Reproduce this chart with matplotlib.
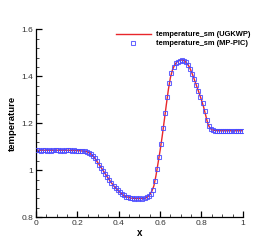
import matplotlib
matplotlib.use("Agg")
import matplotlib.pyplot as plt
from matplotlib.ticker import MultipleLocator, FuncFormatter
import numpy as np

plt.rcParams['font.family'] = ['Liberation Sans', 'DejaVu Sans']

# UGKWP line (x = 0.00 .. 1.00 step 0.01)
line_x = [round(0.01 * i, 2) for i in range(101)]
line_y = [1.085, 1.085, 1.085, 1.085, 1.085, 1.085, 1.085, 1.085, 1.085, 1.085,
          1.085, 1.085, 1.085, 1.085, 1.085, 1.085, 1.085, 1.084, 1.084, 1.084,
          1.083,
          1.083, 1.082, 1.081, 1.080, 1.077, 1.072, 1.065, 1.056, 1.044, 1.031,
          1.018, 1.005, 0.991, 0.978, 0.965, 0.952, 0.940, 0.929, 0.919, 0.910,
          0.902, 0.895, 0.890, 0.886, 0.883, 0.881, 0.880, 0.879, 0.879, 0.879,
          0.879, 0.879, 0.881, 0.886, 0.895, 0.910, 0.933, 0.976, 1.029, 1.083,
          1.143, 1.210, 1.278, 1.343, 1.395, 1.428, 1.448, 1.460, 1.466, 1.469,
          1.469, 1.464, 1.455, 1.442, 1.423, 1.400, 1.375, 1.350, 1.325, 1.299,
          1.270, 1.235, 1.200, 1.180, 1.172, 1.170, 1.169,
          1.168, 1.168, 1.168, 1.168, 1.168, 1.168, 1.168, 1.168, 1.168, 1.168,
          1.168, 1.168, 1.168]

# MP-PIC markers (x = 0.005 .. 0.995 step 0.01)
pic_x = [round(0.005 + 0.01 * i, 3) for i in range(100)]
pic_y = [1.084, 1.085, 1.083, 1.086, 1.084, 1.083, 1.085, 1.082, 1.084, 1.086,
         1.085, 1.083, 1.084, 1.082, 1.085, 1.084, 1.086, 1.083, 1.084, 1.082,
         1.083, 1.082, 1.081, 1.080, 1.078,
         1.075, 1.069, 1.061, 1.050, 1.037, 1.024, 1.011, 0.998, 0.985, 0.971,
         0.958, 0.946, 0.934, 0.924, 0.914, 0.905, 0.898, 0.892, 0.887, 0.884,
         0.882, 0.880, 0.879, 0.881, 0.879, 0.880, 0.878, 0.880, 0.884, 0.891,
         0.900, 0.915, 0.952, 1.005, 1.055, 1.112, 1.178, 1.245, 1.312, 1.372,
         1.415, 1.440, 1.455, 1.463, 1.467, 1.470, 1.467, 1.460, 1.450, 1.433,
         1.412, 1.388, 1.362, 1.338, 1.312, 1.285, 1.253, 1.215, 1.188, 1.175,
         1.171, 1.169, 1.168, 1.167, 1.167, 1.168, 1.167, 1.166, 1.168, 1.167,
         1.165, 1.168, 1.169, 1.167, 1.168]

fig = plt.figure(figsize=(2.76, 2.45), dpi=100)
ax = fig.add_axes([0.130, 0.114, 0.750, 0.766])

ax.plot(line_x, line_y, color='#e8262b', lw=1.0, label='temperature_sm (UGKWP)', zorder=2)
ax.plot(pic_x, pic_y, ls='none', marker='s', ms=2.3, mfc='none', mec='#4a4aff',
        mew=0.75, alpha=0.85, label='temperature_sm (MP-PIC)', zorder=3)

ax.set_xlim(0, 1)
ax.set_ylim(0.8, 1.6)
ax.xaxis.set_major_locator(MultipleLocator(0.2))
ax.xaxis.set_minor_locator(MultipleLocator(0.05))
ax.yaxis.set_major_locator(MultipleLocator(0.2))
ax.yaxis.set_minor_locator(MultipleLocator(0.04))
fmt = FuncFormatter(lambda v, p: '%g' % round(v, 6))
ax.xaxis.set_major_formatter(fmt)
ax.yaxis.set_major_formatter(fmt)

for s in ['top', 'right']:
    ax.spines[s].set_visible(False)
for s in ['left', 'bottom']:
    ax.spines[s].set_linewidth(0.9)

ax.tick_params(which='major', direction='in', length=4, width=0.9, labelsize=6,
               labelcolor='#333333', pad=2)
ax.tick_params(which='minor', direction='in', length=2, width=0.5)

ax.set_xlabel('x', fontsize=7, fontweight='bold', labelpad=1)
ax.set_ylabel('temperature', fontsize=6.8, fontweight='bold', labelpad=3)

leg = ax.legend(loc='upper right', bbox_to_anchor=(1.06, 1.02), frameon=False,
                prop={'weight': 'bold', 'size': 5.4},
                handlelength=4.7, handletextpad=0.6, labelspacing=0.25,
                borderpad=0.2)

fig.savefig('out.png', dpi=100)
